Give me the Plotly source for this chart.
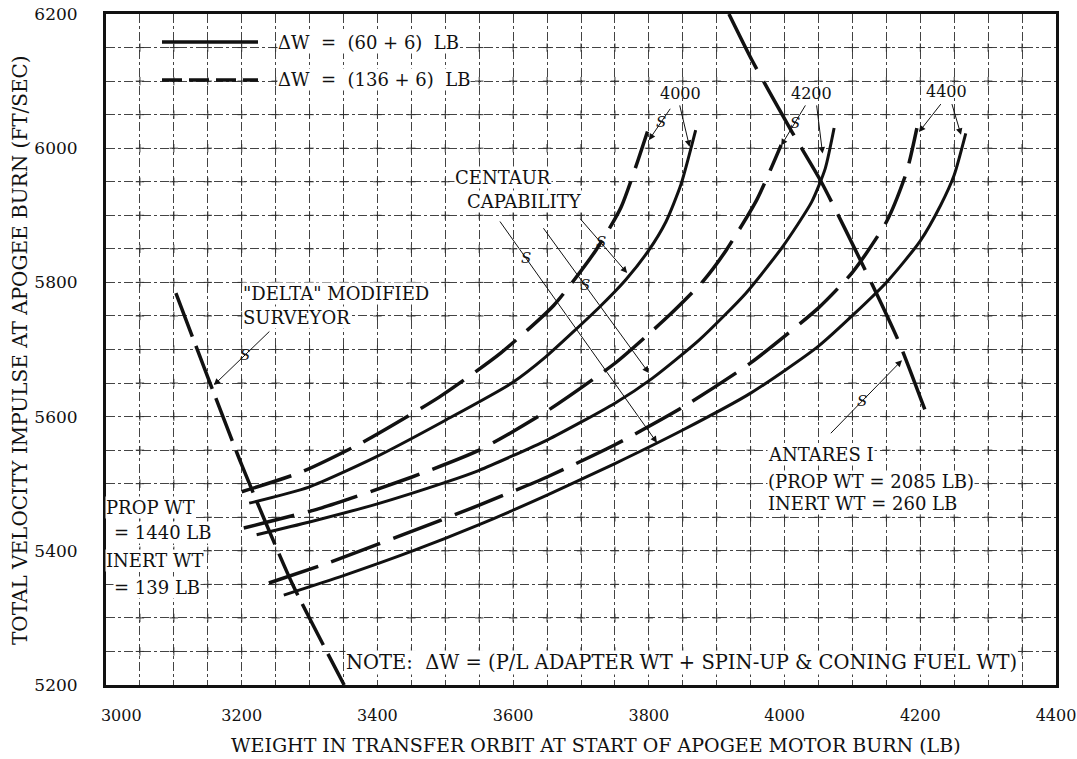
import numpy as np
import plotly.graph_objects as go

# ---- performance curves: weight at start of apogee burn (lb) vs total velocity impulse (ft/sec)
# family "4000"
w4000_dashed = [3200, 3287, 3377, 3491, 3582, 3660, 3722, 3759, 3798]
v4000_dashed = [5488, 5517, 5561, 5629, 5695, 5766, 5848, 5912, 6025]
w4000_solid = [3211, 3299, 3398, 3501, 3598, 3648, 3727, 3766, 3800, 3825, 3847, 3869]
v4000_solid = [5471, 5495, 5540, 5595, 5650, 5689, 5763, 5804, 5848, 5890, 5945, 6027]
# family "4200"
w4200_dashed = [3203, 3318, 3451, 3550, 3648, 3752, 3830, 3880, 3914, 3959, 3995]
v4200_dashed = [5434, 5464, 5510, 5550, 5607, 5681, 5751, 5802, 5848, 5923, 6005]
w4200_solid = [3222, 3300, 3400, 3500, 3550, 3650, 3750, 3805, 3874, 3943, 3997, 4040, 4060, 4073]
v4200_solid = [5424, 5443, 5470, 5502, 5520, 5565, 5620, 5657, 5714, 5784, 5853, 5920, 5970, 6030]
# family "4400"
w4400_dashed = [3240, 3330, 3430, 3550, 3650, 3750, 3850, 3950, 4050, 4100, 4150, 4180, 4195]
v4400_dashed = [5352, 5383, 5421, 5468, 5510, 5558, 5614, 5680, 5762, 5815, 5890, 5965, 6030]
w4400_solid = [3262, 3350, 3450, 3550, 3650, 3750, 3850, 3950, 4050, 4150, 4200, 4230, 4250, 4267]
v4400_solid = [5334, 5363, 5399, 5439, 5483, 5530, 5580, 5635, 5705, 5800, 5862, 5915, 5960, 6022]

# ---- vehicle limit lines
delta_w = [3103, 3200, 3274, 3351]
delta_v = [5784, 5528, 5352, 5200]
antares_w = [3918, 3952, 4011, 4054, 4121, 4169, 4208]
antares_v = [6200, 6131, 6024, 5950, 5814, 5710, 5607]

x_ticks = [3000, 3200, 3400, 3600, 3800, 4000, 4200, 4400]
x_tick_text = ["\u00a0" * 6 + "3000", "3200", "3400", "3600", "3800", "4000", "4200", "4400"]
y_ticks = [5200, 5400, 5600, 5800, 6000, 6200]

FONT = "DejaVu Serif"
INK = "#111111"

# plot-area geometry on the page (pixels) for placing page-level texts
PAGE_W, PAGE_H = 1077, 759
L, R, T, B = 106, 21, 14, 74
AREA_W, AREA_H = PAGE_W - L - R, PAGE_H - T - B


def paper_xy(px, py):
    return (px - L) / AREA_W, (PAGE_H - B - py) / AREA_H


fig = go.Figure()

# graph-paper crosses at every grid intersection
gx, gy = np.meshgrid(np.arange(3050, 4400, 50), np.arange(5250, 6200, 50))
fig.add_trace(go.Scatter(
    x=gx.ravel(), y=gy.ravel(), mode="markers", hoverinfo="skip",
    marker=dict(symbol="cross-thin", size=6, line=dict(width=1, color="#333")),
    showlegend=False))

CURVE_DASH = "52px,14px"
for w, v, dashed in [
    (w4000_dashed, v4000_dashed, True), (w4000_solid, v4000_solid, False),
    (w4200_dashed, v4200_dashed, True), (w4200_solid, v4200_solid, False),
    (w4400_dashed, v4400_dashed, True), (w4400_solid, v4400_solid, False),
]:
    fig.add_trace(go.Scatter(
        x=w, y=v, mode="lines", showlegend=False, hoverinfo="skip",
        line=dict(color=INK, width=3.5 if dashed else 3, shape="spline", smoothing=0.6,
                  dash=CURVE_DASH if dashed else "solid")))

fig.add_trace(go.Scatter(x=delta_w, y=delta_v, mode="lines", showlegend=False,
                         line=dict(color=INK, width=3.5, shape="spline", smoothing=0.6,
                                   dash="46px,10px")))
fig.add_trace(go.Scatter(x=antares_w, y=antares_v, mode="lines", showlegend=False,
                         line=dict(color=INK, width=3.5, shape="spline", smoothing=0.6,
                                   dash="62px,14px")))

annotations = []


def label(x, y, text, size=18, xanchor="center", bg="white", xshift=0):
    annotations.append(dict(x=x, y=y, xref="x", yref="y", text=text, showarrow=False,
                            xanchor=xanchor, yanchor="middle", bgcolor=bg, xshift=xshift,
                            font=dict(family=FONT, size=size, color=INK), borderpad=0))


def pointer(tail, head, squiggle=None):
    annotations.append(dict(x=head[0], y=head[1], ax=tail[0], ay=tail[1],
                            xref="x", yref="y", axref="x", ayref="y", text="",
                            showarrow=True, arrowhead=2, arrowsize=1.3, arrowwidth=1,
                            arrowcolor=INK, standoff=0, startstandoff=0))
    if squiggle is not None:
        sx = tail[0] + squiggle * (head[0] - tail[0])
        sy = tail[1] + squiggle * (head[1] - tail[1])
        annotations.append(dict(x=sx, y=sy, xref="x", yref="y", text="<i>S</i>",
                                showarrow=False, font=dict(family=FONT, size=15, color=INK)))


# curve family labels with pointers
label(3847, 6082, "4000", 16, bg="rgba(0,0,0,0)")
pointer((3833, 6061), (3800, 6012), 0.45)
pointer((3845, 6066), (3860, 6002))
label(4040, 6082, "4200", 16, bg="rgba(0,0,0,0)")
pointer((4032, 6066), (3995, 6004), 0.45)
pointer((4047, 6066), (4056, 5992))
label(4238, 6084, "4400", 16, bg="rgba(0,0,0,0)")
pointer((4232, 6068), (4198, 6024))
pointer((4246, 6068), (4260, 6020))

# Centaur capability
label(3513, 5957, "CENTAUR", 18, xanchor="left")
label(3530, 5920, "CAPABILITY", 18, xanchor="left")
pointer((3579, 5893), (3812, 5561), 0.17)
pointer((3643, 5883), (3800, 5665), 0.4)
pointer((3697, 5897), (3768, 5814), 0.45)

# "Delta" modified Surveyor
label(3200, 5784, "\"DELTA\" MODIFIED", 18, xanchor="left")
label(3200, 5747, "SURVEYOR", 18, xanchor="left")
pointer((3243, 5729), (3159, 5647), 0.45)

# Surveyor motor data
label(3000, 5465, "PROP WT", 18, xanchor="left", xshift=-1)
label(3000, 5427, "= 1440 LB", 18, xanchor="left", xshift=7)
label(3000, 5386, "INERT WT", 18, xanchor="left", xshift=-1)
label(3000, 5346, "= 139 LB", 18, xanchor="left", xshift=7)

# Antares I
label(3974, 5543, "ANTARES I", 18, xanchor="left")
label(3974, 5503, "(PROP WT = 2085 LB)", 18, xanchor="left")
label(3974, 5471, "INERT WT = 260 LB", 18, xanchor="left")
pointer((4066, 5573), (4173, 5684), 0.45)

# note
label(3352, 5233, "NOTE:  ΔW = (P/L ADAPTER WT + SPIN-UP &amp; CONING FUEL WT)", 19.5, xanchor="left")

# legend keys
label(3252, 6158, "ΔW  =  (60 + 6)  LB", 18, xanchor="left")
label(3252, 6102, "ΔW  =  (136 + 6)  LB", 18, xanchor="left")
lx0, ly_solid = paper_xy(162, 42)
lx1, ly_dash = paper_xy(258, 80)
shapes = [
    dict(type="line", xref="paper", yref="paper", x0=lx0, x1=lx1, y0=ly_solid, y1=ly_solid,
         line=dict(color=INK, width=3.5)),
    dict(type="line", xref="paper", yref="paper", x0=lx0, x1=lx1, y0=ly_dash, y1=ly_dash,
         line=dict(color=INK, width=3.5, dash="20px,7px")),
]

# axis titles
tx, ty = paper_xy(596, 745)
annotations.append(dict(x=tx, y=ty, xref="paper", yref="paper",
                        xanchor="center", yanchor="middle", showarrow=False,
                        text="WEIGHT IN TRANSFER ORBIT AT START OF APOGEE MOTOR BURN (LB)",
                        font=dict(family=FONT, size=19, color=INK)))
tx, ty = paper_xy(20, 350)
annotations.append(dict(x=tx, y=ty, xref="paper", yref="paper",
                        xanchor="center", yanchor="middle", showarrow=False, textangle=-90,
                        text="TOTAL VELOCITY IMPULSE AT APOGEE BURN (FT/SEC)",
                        font=dict(family=FONT, size=20, color=INK)))

grid_style = dict(showgrid=True, gridcolor="#444", gridwidth=1, griddash="dashdot")
fig.update_layout(
    width=PAGE_W, height=PAGE_H,
    margin=dict(l=L, r=R, t=T, b=B, autoexpand=False),
    paper_bgcolor="white", plot_bgcolor="white",
    showlegend=False,
    annotations=annotations, shapes=shapes,
    xaxis=dict(range=[3000, 4400], tickvals=x_ticks, ticktext=x_tick_text,
               showline=True, linecolor=INK, linewidth=3, mirror=True, ticks="",
               zeroline=False, ticklabelstandoff=14, ticklabeloverflow="allow",
               automargin=False,
               tickfont=dict(family=FONT, size=16, color=INK),
               minor=dict(dtick=50, **grid_style), **grid_style),
    yaxis=dict(range=[5200, 6200], tickvals=y_ticks, ticktext=[str(t) for t in y_ticks],
               showline=True, linecolor=INK, linewidth=3, mirror=True, ticks="",
               zeroline=False, ticklabelstandoff=22, ticklabeloverflow="allow",
               automargin=False,
               tickfont=dict(family=FONT, size=17, color=INK),
               minor=dict(dtick=50, **grid_style), **grid_style),
)

fig.write_html("out.html")
